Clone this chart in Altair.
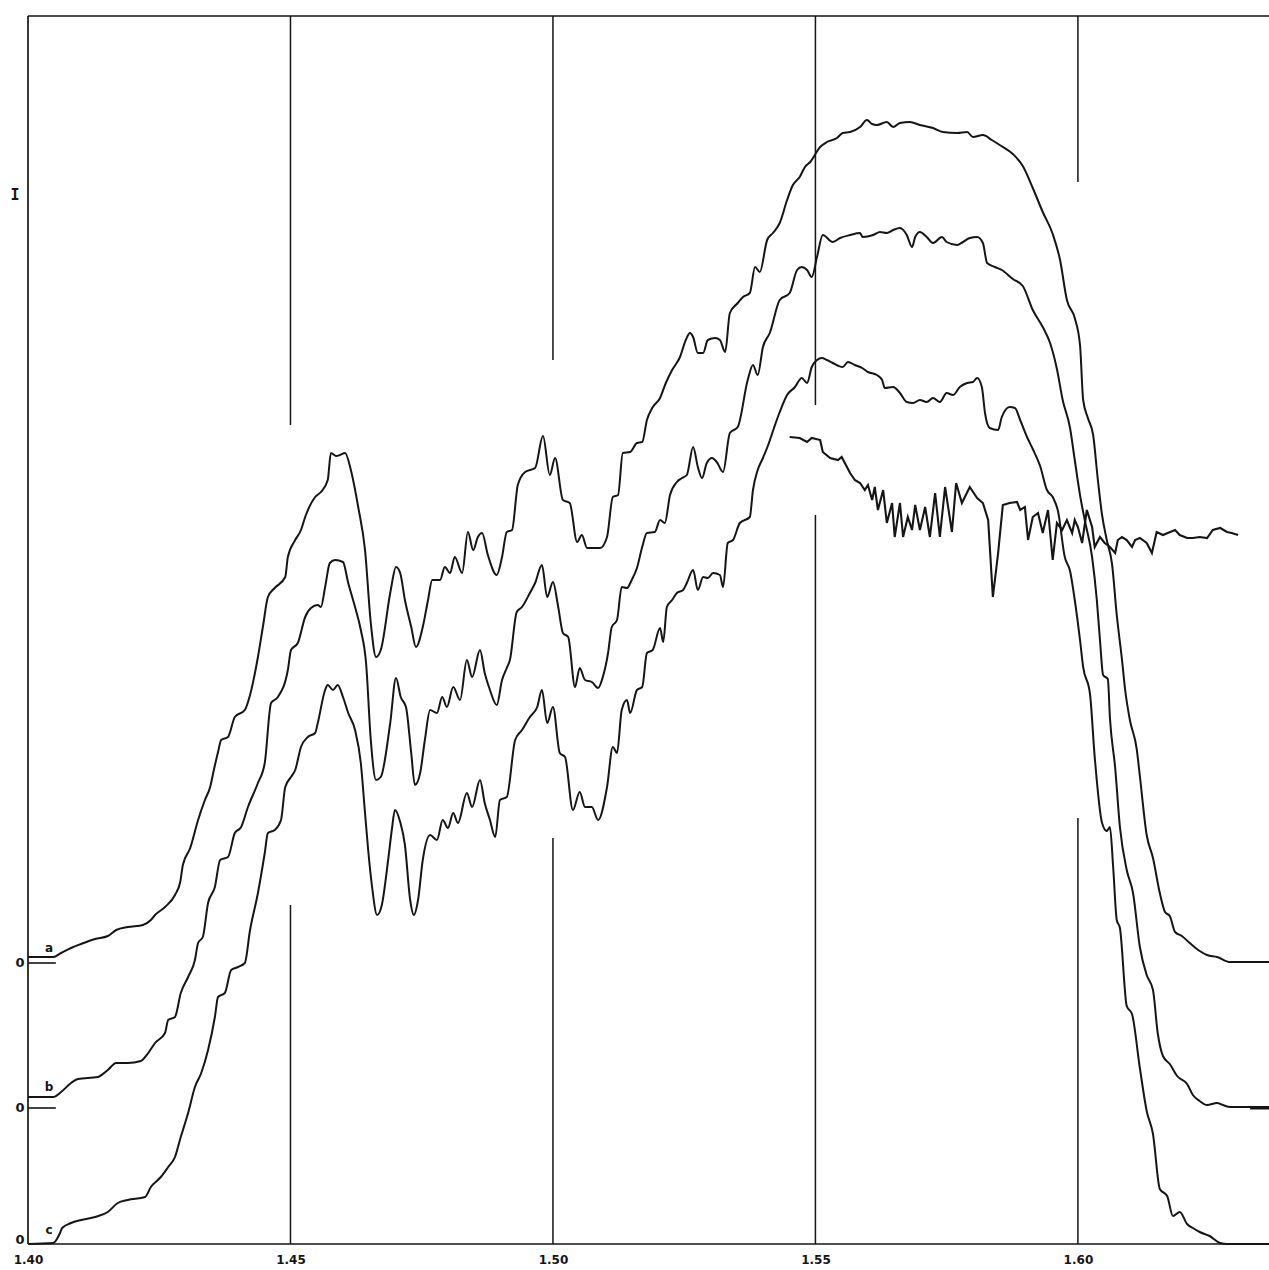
import altair as alt
import pandas as pd

# ---- wavelength (micron) and intensity (arbitrary units) ----
a_w = [1.4000,1.4048,1.4063,1.4082,1.4101,1.4128,1.4152,1.4168,1.4190,1.4219,1.4234,1.4242,1.4261,1.4280,1.4290,1.4295,1.4309,1.4324,1.4337,1.4347,1.4354,1.4362,1.4368,1.4381,1.4394,1.4413,1.4423,1.4438,1.4448,1.4457,1.4470,1.4490,1.4495,1.4509,1.4520,1.4528,1.4547,1.4558,1.4571,1.4577,1.4587,1.4594,1.4604,1.4615,1.4629,1.4642,1.4653,1.4663,1.4672,1.4691,1.4701,1.4709,1.4718,1.4730,1.4739,1.4752,1.4762,1.4770,1.4785,1.4794,1.4804,1.4813,1.4827,1.4838,1.4848,1.4857,1.4865,1.4876,1.4893,1.4903,1.4912,1.4922,1.4933,1.4947,1.4966,1.4981,1.4994,1.5004,1.5019,1.5032,1.5046,1.5055,1.5065,1.5090,1.5103,1.5114,1.5124,1.5133,1.5147,1.5160,1.5170,1.5179,1.5189,1.5204,1.5215,1.5227,1.5242,1.5253,1.5261,1.5267,1.5276,1.5286,1.5295,1.5309,1.5318,1.5328,1.5337,1.5352,1.5362,1.5375,1.5385,1.5394,1.5408,1.5419,1.5432,1.5446,1.5457,1.5470,1.5480,1.5490,1.5509,1.5522,1.5541,1.5552,1.5566,1.5585,1.5598,1.5608,1.5617,1.5636,1.5648,1.5661,1.5680,1.5699,1.5724,1.5743,1.5770,1.5789,1.5800,1.5819,1.5836,1.5851,1.5876,1.5895,1.5914,1.5933,1.5952,1.5966,1.5979,1.5994,1.6004,1.6010,1.6019,1.6029,1.6038,1.6046,1.6055,1.6065,1.6074,1.6084,1.6090,1.6099,1.6112,1.6118,1.6131,1.6143,1.6156,1.6166,1.6175,1.6185,1.6198,1.6213,1.6232,1.6246,1.6265,1.6290,1.6364]
a_v = [28.7,28.7,29.1,29.6,30.0,30.5,30.8,31.4,31.7,31.9,32.4,32.9,33.7,34.9,36.2,37.9,39.6,42.4,44.4,45.7,47.4,49.2,50.4,50.7,52.7,53.4,54.9,58.7,61.9,64.7,65.6,66.7,68.7,70.4,71.4,72.7,74.7,75.2,76.4,79.1,78.8,78.9,79.1,77.4,73.7,69.4,62.1,58.7,59.4,65.4,67.7,67.1,64.4,61.7,59.7,61.7,64.4,66.4,66.4,67.7,67.1,68.7,67.1,71.2,69.4,70.7,71.1,68.9,66.9,68.7,71.2,71.4,75.9,77.2,77.6,80.8,76.9,78.6,74.4,74.1,70.2,70.9,69.6,69.6,70.7,74.7,74.9,79.1,79.2,80.1,80.2,82.4,83.6,84.6,86.1,87.4,88.7,90.4,91.1,90.7,89.1,89.1,90.4,90.6,90.4,89.2,93.1,94.1,94.7,95.1,97.7,97.2,100.4,101.1,102.1,104.4,105.9,106.7,107.7,108.2,109.7,110.2,110.6,111.1,111.2,111.7,112.4,112.0,111.9,112.2,111.7,112.1,112.2,111.9,111.6,111.2,111.1,111.2,110.7,110.9,110.4,109.9,109.0,107.8,105.6,103.2,101.0,98.4,94.4,92.6,89.9,84.4,82.6,80.9,76.4,72.9,70.4,68.0,62.9,58.4,55.4,52.4,49.5,46.8,40.9,38.6,35.1,33.2,32.8,31.2,30.8,30.1,29.3,28.9,28.7,28.2,28.2]

b_w = [1.4000,1.4048,1.4063,1.4082,1.4095,1.4133,1.4152,1.4168,1.4190,1.4215,1.4229,1.4242,1.4261,1.4267,1.4280,1.4291,1.4305,1.4318,1.4324,1.4333,1.4343,1.4356,1.4366,1.4381,1.4394,1.4406,1.4419,1.4438,1.4451,1.4463,1.4476,1.4495,1.4501,1.4514,1.4528,1.4539,1.4552,1.4558,1.4566,1.4575,1.4585,1.4600,1.4610,1.4623,1.4634,1.4644,1.4653,1.4663,1.4672,1.4690,1.4701,1.4710,1.4720,1.4730,1.4737,1.4747,1.4756,1.4766,1.4779,1.4789,1.4798,1.4810,1.4823,1.4836,1.4846,1.4861,1.4870,1.4880,1.4893,1.4903,1.4912,1.4918,1.4931,1.4941,1.4956,1.4966,1.4979,1.4989,1.5000,1.5010,1.5019,1.5029,1.5042,1.5051,1.5061,1.5074,1.5086,1.5095,1.5105,1.5112,1.5122,1.5131,1.5141,1.5150,1.5160,1.5170,1.5179,1.5194,1.5204,1.5213,1.5223,1.5236,1.5246,1.5255,1.5267,1.5276,1.5284,1.5293,1.5303,1.5312,1.5324,1.5337,1.5352,1.5371,1.5381,1.5390,1.5400,1.5413,1.5432,1.5451,1.5465,1.5474,1.5484,1.5493,1.5503,1.5514,1.5533,1.5547,1.5566,1.5585,1.5590,1.5610,1.5623,1.5636,1.5648,1.5661,1.5674,1.5684,1.5690,1.5699,1.5712,1.5724,1.5741,1.5750,1.5770,1.5781,1.5794,1.5808,1.5819,1.5827,1.5842,1.5855,1.5876,1.5895,1.5914,1.5933,1.5947,1.5960,1.5971,1.5985,1.5994,1.6004,1.6013,1.6027,1.6036,1.6042,1.6048,1.6057,1.6061,1.6071,1.6080,1.6093,1.6105,1.6118,1.6131,1.6143,1.6152,1.6162,1.6175,1.6189,1.6208,1.6219,1.6232,1.6246,1.6265,1.6276,1.6290,1.6364]
b_v = [14.7,14.7,15.2,16.1,16.5,16.7,17.4,18.1,18.1,18.3,19.1,20.1,21.1,22.4,22.7,25.1,26.7,28.4,30.1,30.7,34.1,35.7,38.4,38.7,41.1,41.7,43.7,46.1,48.1,54.1,54.7,57.4,59.4,60.1,62.7,63.6,63.9,63.7,65.7,68.1,68.4,68.2,66.1,63.7,61.4,58.1,50.4,46.4,46.7,52.1,56.6,54.7,53.7,49.1,45.9,47.1,50.4,53.4,53.1,54.7,53.7,55.7,54.4,58.4,56.7,59.4,57.1,55.4,53.9,56.4,57.6,58.4,63.2,63.7,65.1,66.1,67.9,64.7,66.2,63.7,61.1,60.7,55.7,57.6,56.4,56.2,55.6,56.7,59.1,61.7,62.4,65.7,65.6,66.4,67.6,69.7,71.1,71.2,72.4,72.1,74.9,76.2,76.6,76.9,79.7,77.7,76.6,78.1,78.6,78.2,77.2,81.1,81.7,86.4,87.9,86.9,89.7,91.1,94.4,95.1,97.4,97.7,97.4,96.7,98.7,100.9,100.2,100.6,100.9,101.1,100.7,100.9,101.2,101.1,101.4,101.6,100.9,99.7,100.7,101.2,100.7,100.1,100.7,100.2,99.9,100.2,100.6,100.7,100.1,98.1,97.7,97.4,96.5,95.8,93.4,91.7,90.1,87.5,84.4,81.6,78.4,74.9,72.4,68.7,64.4,60.4,56.9,56.5,52.6,47.6,41.7,37.4,35.1,29.7,26.9,25.4,21.1,18.8,18.0,16.8,16.0,14.9,14.3,13.9,14.1,13.9,13.7,13.7]

c_w = [1.4000,1.4048,1.4061,1.4065,1.4082,1.4101,1.4128,1.4152,1.4171,1.4190,1.4223,1.4234,1.4253,1.4267,1.4280,1.4291,1.4305,1.4318,1.4330,1.4343,1.4356,1.4362,1.4375,1.4387,1.4400,1.4413,1.4423,1.4438,1.4451,1.4457,1.4470,1.4482,1.4490,1.4501,1.4509,1.4520,1.4533,1.4547,1.4552,1.4566,1.4571,1.4581,1.4590,1.4600,1.4610,1.4623,1.4634,1.4642,1.4648,1.4655,1.4665,1.4674,1.4686,1.4693,1.4699,1.4709,1.4718,1.4728,1.4735,1.4743,1.4752,1.4766,1.4779,1.4790,1.4800,1.4810,1.4819,1.4836,1.4846,1.4861,1.4870,1.4880,1.4890,1.4899,1.4912,1.4928,1.4941,1.4956,1.4970,1.4979,1.4989,1.5000,1.5013,1.5023,1.5038,1.5051,1.5061,1.5074,1.5086,1.5103,1.5114,1.5122,1.5131,1.5141,1.5147,1.5160,1.5170,1.5179,1.5190,1.5204,1.5210,1.5217,1.5227,1.5236,1.5248,1.5255,1.5267,1.5276,1.5286,1.5295,1.5305,1.5318,1.5324,1.5333,1.5343,1.5356,1.5375,1.5381,1.5390,1.5400,1.5410,1.5421,1.5432,1.5446,1.5461,1.5474,1.5484,1.5493,1.5503,1.5512,1.5522,1.5533,1.5552,1.5562,1.5575,1.5589,1.5600,1.5617,1.5627,1.5632,1.5648,1.5661,1.5674,1.5686,1.5699,1.5712,1.5724,1.5737,1.5750,1.5762,1.5775,1.5789,1.5800,1.5808,1.5817,1.5823,1.5832,1.5848,1.5855,1.5870,1.5880,1.5890,1.5903,1.5914,1.5928,1.5941,1.5952,1.5962,1.5975,1.5985,1.5994,1.6004,1.6010,1.6023,1.6032,1.6046,1.6055,1.6061,1.6067,1.6074,1.6080,1.6093,1.6103,1.6118,1.6131,1.6143,1.6156,1.6170,1.6181,1.6194,1.6208,1.6219,1.6232,1.6251,1.6271,1.6284,1.6364]
c_v = [0.0,0.1,1.1,1.6,2.1,2.4,2.7,3.2,4.1,4.4,4.7,5.7,6.7,7.7,8.7,10.7,13.1,15.7,17.1,19.4,22.7,24.7,25.1,27.4,27.7,28.1,31.4,35.1,39.1,41.1,41.4,42.4,45.7,46.7,47.4,49.7,50.7,51.1,52.1,55.4,55.9,55.4,55.9,54.7,53.1,51.4,48.1,43.1,39.4,35.9,32.9,33.9,38.4,41.4,43.4,42.2,39.9,34.4,32.9,34.4,38.4,40.9,40.4,42.4,41.6,43.1,42.1,45.1,43.7,46.4,44.1,42.4,40.7,44.4,44.7,50.4,51.4,52.7,53.7,55.4,52.1,53.7,49.1,48.7,43.4,45.2,43.7,43.7,42.4,45.7,49.7,49.1,53.4,54.4,53.1,55.4,55.7,59.1,59.4,61.6,60.2,63.7,64.4,65.1,65.4,66.1,67.4,65.4,66.7,66.6,67.1,66.9,65.7,70.1,70.4,72.1,72.7,75.4,77.4,78.6,79.9,81.6,83.2,84.9,85.7,86.6,86.1,87.7,88.4,88.6,88.4,88.1,87.7,88.2,87.9,87.6,87.2,86.9,86.4,85.6,85.7,85.1,84.2,84.1,84.4,84.2,84.6,84.2,85.1,84.9,85.7,86.1,86.2,86.6,85.7,83.1,81.6,81.4,82.7,83.7,83.6,82.4,80.7,79.5,77.8,75.4,74.7,73.3,68.7,67.3,64.4,60.4,57.7,55.0,48.7,42.1,41.3,41.7,37.8,32.4,31.6,23.8,23.0,17.6,13.3,11.0,5.5,4.8,2.8,3.2,2.0,1.6,1.2,0.8,0.1,0.0,0.0]

d_w = [1.5451,1.5470,1.5484,1.5493,1.5509,1.5514,1.5528,1.5543,1.5550,1.5556,1.5566,1.5575,1.5585,1.5594,1.5600,1.5608,1.5613,1.5619,1.5629,1.5636,1.5646,1.5651,1.5661,1.5667,1.5676,1.5684,1.5690,1.5699,1.5709,1.5718,1.5728,1.5737,1.5747,1.5760,1.5768,1.5779,1.5794,1.5808,1.5819,1.5829,1.5838,1.5848,1.5857,1.5870,1.5884,1.5890,1.5899,1.5905,1.5914,1.5924,1.5933,1.5943,1.5952,1.5960,1.5970,1.5979,1.5989,1.5994,1.6000,1.6008,1.6017,1.6027,1.6032,1.6042,1.6051,1.6061,1.6071,1.6076,1.6084,1.6093,1.6103,1.6109,1.6118,1.6131,1.6141,1.6150,1.6162,1.6171,1.6185,1.6194,1.6208,1.6219,1.6232,1.6246,1.6257,1.6271,1.6284,1.6293,1.6305]
d_v = [80.7,80.6,80.2,80.6,80.4,79.2,78.6,78.4,78.7,78.1,77.1,76.4,76.1,75.4,75.9,74.4,75.7,73.4,75.4,72.1,74.1,70.7,74.1,70.7,72.7,71.4,73.9,71.4,73.7,70.7,75.1,70.7,75.7,71.2,76.1,74.1,75.7,74.6,74.1,72.4,64.7,69.1,73.9,74.1,74.2,73.4,73.7,70.4,72.7,73.1,71.1,73.4,68.4,72.1,71.4,72.4,71.1,72.4,71.7,70.1,73.4,71.7,69.7,70.7,70.1,69.7,69.1,70.4,70.7,70.4,69.7,70.4,70.6,70.1,69.1,71.2,70.9,71.1,71.4,70.9,70.6,70.6,70.7,70.6,71.4,71.6,71.2,71.1,70.9]

# grid segments (gaps where the traces cross)
grid_w = [1.45, 1.45, 1.50, 1.50, 1.55, 1.55, 1.60, 1.60]
grid_lo = [81.9, 0.0, 88.4, 0.0, 83.9, 0.0, 106.2, 0.0]
grid_hi = [122.8, 33.9, 122.8, 40.6, 122.8, 72.9, 122.8, 42.6]

x_ticks = [1.40, 1.45, 1.50, 1.55, 1.60]
W_MIN, W_MAX = 1.40, 1.6364
V_MIN, V_MAX = 0.0, 122.8

zero_levels = [28.1, 13.6, 0.4]          # "0" marks of traces a, b, c
trace_names = ["a", "b", "c"]
name_levels = [29.6, 15.7, 1.4]

INK = "#151515"
xs = alt.Scale(domain=[W_MIN, W_MAX], nice=False, zero=False)
ys = alt.Scale(domain=[V_MIN, V_MAX], nice=False, zero=False)
xaxis = alt.Axis(values=x_ticks, format=".2f", title=None, ticks=False, domain=False,
                 grid=False, labelFont="DejaVu Sans", labelFontWeight="bold",
                 labelFontSize=12, labelColor=INK, labelPadding=10, labelFlush=False)

def X(f="w"):
    return alt.X(f"{f}:Q", scale=xs, axis=xaxis)

def Y(f="v"):
    return alt.Y(f"{f}:Q", scale=ys, axis=None)

smooth = pd.concat([
    pd.DataFrame({"w": a_w, "v": a_v, "s": "a"}),
    pd.DataFrame({"w": b_w, "v": b_v, "s": "b"}),
    pd.DataFrame({"w": c_w, "v": c_v, "s": "c"}),
])
noisy = pd.DataFrame({"w": d_w, "v": d_v})

grid_df = pd.DataFrame({"w": grid_w, "v": grid_lo, "v2": grid_hi})
grid = alt.Chart(grid_df).mark_rule(color=INK, strokeWidth=1.5).encode(
    x=X(), y=Y(), y2="v2:Q")

frame_df = pd.DataFrame({
    "w": [W_MIN, W_MIN, W_MIN],
    "w2": [W_MIN, W_MAX, W_MAX],
    "v": [V_MIN, V_MIN, V_MAX],
    "v2": [V_MAX, V_MIN, V_MAX],
})
frame = alt.Chart(frame_df).mark_rule(color=INK, strokeWidth=1.7).encode(
    x=X(), x2="w2:Q", y=Y(), y2="v2:Q")

marks_df = pd.DataFrame({
    "w": [W_MIN, W_MIN],
    "w2": [1.4053, 1.4053],
    "v": [zero_levels[0], zero_levels[1]],
})
marks = alt.Chart(marks_df).mark_rule(color=INK, strokeWidth=1.6).encode(
    x=X(), x2="w2:Q", y=Y())
right_mark = alt.Chart(pd.DataFrame({"w": [1.6328], "w2": [W_MAX], "v": [zero_levels[1]]})).mark_rule(
    color=INK, strokeWidth=3).encode(x=X(), x2="w2:Q", y=Y())

lines = alt.Chart(smooth).mark_line(color=INK, strokeWidth=2, interpolate="monotone").encode(
    x=X(), y=Y(), detail="s:N", order="w:Q")
noise = alt.Chart(noisy).mark_line(color=INK, strokeWidth=2.1).encode(
    x=X(), y=Y(), order="w:Q")

zeros = alt.Chart(pd.DataFrame({"w": [W_MIN] * 3, "v": zero_levels, "t": ["0"] * 3})).mark_text(
    font="DejaVu Sans", fontWeight="bold", fontSize=13, color=INK, dx=-8, align="center",
    baseline="middle").encode(x=X(), y=Y(), text="t:N")
names = alt.Chart(pd.DataFrame({"w": [1.4040] * 3, "v": name_levels, "t": trace_names})).mark_text(
    font="DejaVu Sans", fontWeight="bold", fontSize=12, color=INK, align="center",
    baseline="middle").encode(x=X(), y=Y(), text="t:N")
ilabel = alt.Chart(pd.DataFrame({"w": [W_MIN], "v": [104.9], "t": ["I"]})).mark_text(
    font="DejaVu Sans Mono", fontWeight="bold", fontSize=15, color=INK, dx=-13, align="center",
    baseline="middle").encode(x=X(), y=Y(), text="t:N")

chart = alt.layer(grid, frame, marks, right_mark, lines, noise, zeros, names, ilabel).properties(
    width=1241, height=1228,
    autosize=alt.AutoSizeParams(type="none"),
    padding={"left": 28, "top": 16, "right": 0, "bottom": 26},
    background="white",
).configure_view(stroke=None)

chart.save("out.html", embed_options={"renderer": "svg", "actions": False})
